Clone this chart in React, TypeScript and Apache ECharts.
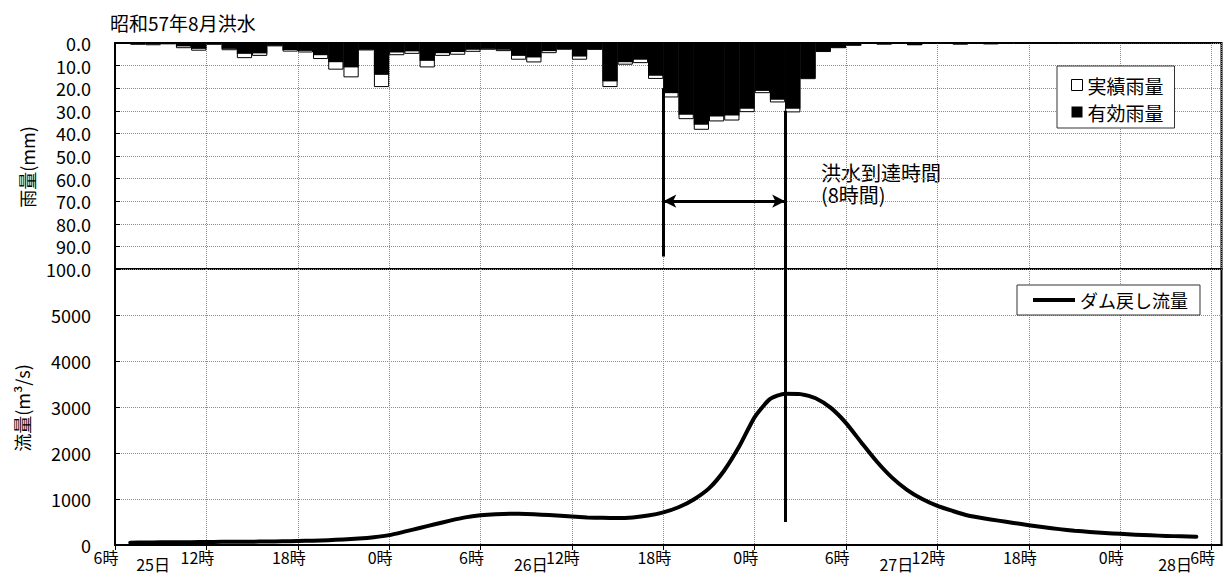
import React, { useEffect, useRef } from "react";
import * as echarts from "echarts";

// Time axis: hours counted from 25日 6時; the plot runs a little past 28日 6時.
const HOURS_SPAN = 72.65;
const hourTicks = [0, 6, 12, 18, 24, 30, 36, 42, 48, 54, 60, 66, 72];
const hourTickLabels = ["6時", "12時", "18時", "0時", "6時", "12時", "18時", "0時", "6時", "12時", "18時", "0時", "6時"];
const dayLabels = ["25日", "26日", "27日", "28日"];
const dayLabelHours = [2.5, 27.3, 51.3, 69.6];

// Hourly rainfall (mm), one bar per hour starting at 25日 6時
const rainActual = [
  0.4, 0.8, 1.0, 0.6, 2.3, 3.4, 0.8, 3.2, 6.7, 5.7,
  1.5, 3.8, 4.2, 7.1, 11.8, 15.2, 3.3, 19.5, 5.4, 4.8,
  10.8, 5.7, 5.2, 3.9, 3.0, 3.6, 7.4, 8.6, 4.5, 3.0,
  7.4, 3.0, 19.5, 9.6, 8.9, 15.9, 24.1, 33.7, 38.4, 34.7,
  34.3, 30.6, 22.2, 26.3, 30.7, 16.0, 4.0, 2.3, 1.2, 0.4,
  0.7, 0.3, 1.0, 0.3, 0.2, 0.7, 0.3, 0.6, 0.4, 0.3,
  0.2, 0.2, 0.1, 0, 0, 0, 0, 0, 0, 0,
  0, 0,
];
const rainEffective = [
  0.2, 0.5, 0.6, 0.3, 1.5, 2.6, 0.5, 2.6, 4.8, 4.6,
  1.2, 3.1, 3.5, 5.4, 8.5, 10.8, 3.0, 14.1, 4.2, 3.7,
  7.9, 4.5, 4.0, 3.0, 2.6, 3.0, 5.7, 6.4, 3.6, 2.7,
  6.0, 2.9, 17.0, 8.5, 7.4, 14.5, 22.2, 31.8, 36.2, 32.5,
  32.1, 29.1, 21.2, 25.1, 29.1, 15.7, 3.7, 2.1, 1.1, 0.3,
  0.6, 0.3, 0.9, 0.2, 0.2, 0.6, 0.2, 0.5, 0.3, 0.2,
  0.1, 0.1, 0.1, 0, 0, 0, 0, 0, 0, 0,
  0, 0,
];

// Dam-restored discharge (m3/s), hourly from 25日 7時
const flowStartHour = 1;
const damFlow = [
  50, 55, 58, 60, 62, 65, 68, 70, 72, 76,
  80, 88, 95, 105, 120, 140, 170, 215, 290, 370,
  450, 530, 600, 645, 670, 680, 675, 660, 640, 620,
  600, 590, 585, 600, 640, 710, 820, 990, 1230, 1620,
  2150, 2780, 3170, 3290, 3280, 3190, 2980, 2650, 2230, 1820,
  1470, 1200, 1000, 850, 740, 640, 580, 530, 480, 430,
  385, 345, 310, 285, 262, 242, 225, 210, 198, 188,
  178,
];

// Flood arrival-time annotation (hours on the time axis, mm / m3/s on the value axes)
const arrivalStart = 36;
const arrivalEnd = 44;
const arrivalArrowRain = 70;
const startLineRain: [number, number] = [20, 94.5];
const endLineRainTop = 30;
const endLineFlowBottom = 500;

const FONT = "'Noto Sans CJK JP', 'Noto Sans', sans-serif";
const gridLine = { type: "dotted" as const, color: "#8c8c8c", width: 1 };

export default function App() {
  const ref = useRef<HTMLDivElement>(null);

  useEffect(() => {
    document.body.style.margin = "0";
    if (!ref.current) return;
    const chart = echarts.init(ref.current, undefined, { renderer: "svg" });

    const thick = { color: "#000", width: 3, type: "solid" as const };
    const yLabel = { margin: 24, fontSize: 18, lineHeight: 20, color: "#000", fontFamily: FONT };
    const gridBase = {
      left: 115,
      width: 1106.5,
      show: true,
      borderColor: "#000",
      borderWidth: 2,
      containLabel: false,
      outerBoundsMode: "none",
    };

    chart.setOption({
      animation: false,
      textStyle: { fontFamily: FONT, color: "#000" },
      title: {
        text: "昭和57年8月洪水",
        left: 110,
        top: 12,
        padding: 0,
        textStyle: { fontFamily: FONT, fontSize: 19, lineHeight: 21, fontWeight: "normal", color: "#000" },
      },
      grid: [
        { ...gridBase, top: 43, height: 226 },
        { ...gridBase, top: 269, height: 276 },
      ],
      legend: [
        {
          orient: "vertical",
          left: 1057,
          top: 66,
          padding: [9, 11, 6, 14],
          itemGap: 7,
          itemWidth: 11,
          itemHeight: 11,
          backgroundColor: "#fff",
          borderColor: "#333",
          borderWidth: 1,
          borderRadius: 0,
          textStyle: { fontFamily: FONT, fontSize: 19, lineHeight: 20, color: "#000" },
          data: [
            { name: "実績雨量", icon: "rect", itemStyle: { color: "#fff", borderColor: "#000", borderWidth: 1 } },
            { name: "有効雨量", icon: "rect", itemStyle: { color: "#000", borderWidth: 0 } },
          ],
        },
        {
          orient: "horizontal",
          left: 1017,
          top: 285,
          padding: [5, 12, 5, 16],
          itemWidth: 42,
          itemHeight: 4,
          backgroundColor: "#fff",
          borderColor: "#333",
          borderWidth: 1,
          borderRadius: 0,
          textStyle: { fontFamily: FONT, fontSize: 18, lineHeight: 20, color: "#000" },
          data: [{ name: "ダム戻し流量", icon: "rect", itemStyle: { color: "#000" } }],
        },
      ],
      xAxis: [
        {
          type: "value",
          gridIndex: 0,
          min: 0,
          max: HOURS_SPAN,
          interval: 6,
          axisLine: { show: false },
          axisTick: { show: false },
          axisLabel: { show: false },
          splitLine: { show: true, lineStyle: gridLine },
        },
        {
          type: "value",
          gridIndex: 1,
          min: 0,
          max: HOURS_SPAN,
          interval: 6,
          axisLine: { show: true, lineStyle: { color: "#000", width: 2 } },
          axisTick: { show: true, customValues: hourTicks, length: 5, lineStyle: { color: "#000" } },
          axisLabel: {
            customValues: hourTicks,
            formatter: (v: number) => hourTickLabels[Math.round(v / 6)] ?? "",
            margin: 3,
            fontSize: 16,
            lineHeight: 17,
            color: "#000",
            fontFamily: FONT,
            padding: [0, 18, 0, 0],
          },
          splitLine: { show: true, lineStyle: gridLine },
        },
        {
          type: "value",
          gridIndex: 1,
          min: 0,
          max: HOURS_SPAN,
          position: "bottom",
          axisLine: { show: false },
          axisTick: { show: false },
          splitLine: { show: false },
          axisLabel: {
            customValues: dayLabelHours,
            formatter: (v: number) => {
              const i = dayLabelHours.findIndex((h) => Math.abs(h - v) < 0.01);
              return i >= 0 ? dayLabels[i] : "";
            },
            margin: 10,
            fontSize: 16,
            lineHeight: 17,
            color: "#000",
            fontFamily: FONT,
          },
        },
      ],
      yAxis: [
        {
          type: "value",
          gridIndex: 0,
          inverse: true,
          min: 0,
          max: 100,
          interval: 10,
          axisLine: { show: true, lineStyle: { color: "#000", width: 2 } },
          axisTick: { show: true, inside: true, length: 5, lineStyle: { color: "#000" } },
          axisLabel: { ...yLabel, formatter: (v: number) => v.toFixed(1) },
          splitLine: { show: true, lineStyle: gridLine },
        },
        {
          type: "value",
          gridIndex: 1,
          min: 0,
          max: 6000,
          interval: 1000,
          axisLine: { show: true, lineStyle: { color: "#000", width: 2 } },
          axisTick: { show: true, inside: true, length: 5, lineStyle: { color: "#000" } },
          axisLabel: { ...yLabel, formatter: (v: number) => (v >= 6000 ? "" : String(v)) },
          splitLine: { show: true, lineStyle: gridLine },
        },
      ],
      series: [
        {
          name: "実績雨量",
          type: "bar",
          xAxisIndex: 0,
          yAxisIndex: 0,
          barWidth: "100%",
          barGap: "-100%",
          itemStyle: { color: "#fff", borderColor: "#000", borderWidth: 1 },
          data: rainActual.map((v, i) => [i + 0.5, v]),
        },
        {
          name: "有効雨量",
          type: "bar",
          xAxisIndex: 0,
          yAxisIndex: 0,
          barWidth: "100%",
          barGap: "-100%",
          itemStyle: { color: "#000" },
          data: rainEffective.map((v, i) => [i + 0.5, v]),
          markLine: {
            silent: true,
            label: { show: false },
            lineStyle: thick,
            symbol: "none",
            data: [
              [
                { coord: [arrivalStart, startLineRain[0]] },
                { coord: [arrivalStart, startLineRain[1]] },
              ],
              [
                { coord: [arrivalEnd, endLineRainTop] },
                { coord: [arrivalEnd, 100] },
              ],
              [
                { coord: [arrivalStart, arrivalArrowRain], symbol: "arrow", symbolSize: [10, 13] },
                { coord: [arrivalEnd, arrivalArrowRain], symbol: "arrow", symbolSize: [10, 13] },
              ],
            ],
          },
        },
        {
          name: "ダム戻し流量",
          type: "line",
          xAxisIndex: 1,
          yAxisIndex: 1,
          showSymbol: false,
          symbol: "none",
          smooth: 0.2,
          color: "#000",
          lineStyle: { color: "#000", width: 4, cap: "round", join: "round" },
          data: damFlow.map((v, i) => [i + flowStartHour, v]),
          markLine: {
            silent: true,
            label: { show: false },
            lineStyle: thick,
            symbol: "none",
            data: [
              [
                { coord: [arrivalEnd, 6000] },
                { coord: [arrivalEnd, endLineFlowBottom] },
              ],
            ],
          },
        },
      ],
      graphic: [
        {
          type: "text",
          x: 27,
          y: 167,
          rotation: Math.PI / 2,
          style: {
            text: "雨量(mm)",
            font: `18px ${FONT}`,
            fill: "#000",
            align: "center",
            verticalAlign: "middle",
          },
        },
        {
          type: "text",
          x: 22,
          y: 408,
          rotation: Math.PI / 2,
          style: {
            text: "流量(m³/s)",
            font: `18px ${FONT}`,
            fill: "#000",
            align: "center",
            verticalAlign: "middle",
          },
        },
        {
          type: "text",
          left: 821,
          top: 162,
          style: {
            text: "洪水到達時間",
            font: `20px ${FONT}`,
            lineHeight: 21,
            fill: "#000",
          },
        },
        {
          type: "text",
          left: 821,
          top: 184,
          style: {
            text: "(8時間)",
            font: `20px ${FONT}`,
            lineHeight: 21,
            fill: "#000",
          },
        },
      ],
    });

    return () => chart.dispose();
  }, []);

  return <div ref={ref} style={{ width: 1229, height: 574 }} />;
}
